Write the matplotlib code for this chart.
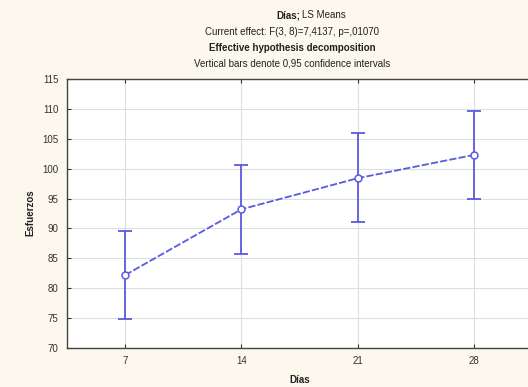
import matplotlib
matplotlib.use("Agg")
import matplotlib.pyplot as plt

dias = [7, 14, 21, 28]
means = [82.2, 93.2, 98.4, 102.3]
lower = [74.8, 85.8, 91.0, 94.9]
upper = [89.6, 100.6, 105.9, 109.7]

title_lines = ["Current effect: F(3, 8)=7,4137, p=,01070",
               "Effective hypothesis decomposition",
               "Vertical bars denote 0,95 confidence intervals"]

plt.rcParams['font.family'] = ['Liberation Sans', 'DejaVu Sans']
W, H = 528, 387
fig = plt.figure(figsize=(W/100, H/100), dpi=100)
fig.patch.set_facecolor('#fcf8ee')

left, right, top, bottom = 67, 532, 79, 348
ax = fig.add_axes([left/W, 1-bottom/H, (right-left)/W, (bottom-top)/H])
ax.set_facecolor('white')

col = '#5a5ae0'
yerr = [[m - l for m, l in zip(means, lower)], [u - m for m, u in zip(means, upper)]]
ax.errorbar(dias, means, yerr=yerr, fmt='none', ecolor=col, elinewidth=1.3,
            capsize=5, capthick=1.3, zorder=3)
ax.plot(dias, means, color=col, lw=1.3, ls=(0, (4, 1.2)), marker='o',
        markersize=5, markerfacecolor='white', markeredgecolor=col,
        markeredgewidth=1.1, zorder=4)

ax.set_xlim(3.5, 31.5)
ax.set_ylim(70, 115)
ax.set_xticks(dias)
ax.set_yticks(range(70, 116, 5))
ax.grid(True, color='#dedede', lw=0.8)
ax.set_axisbelow(True)
ax.tick_params(direction='in', length=3, labelsize=7, colors='#333333',
               top=True, right=False, pad=6)
for s in ax.spines.values():
    s.set_color('#444444')
    s.set_linewidth(1.0)

fig.text(30/W, 1-213/H, 'Esfuerzos', rotation=90, ha='center', va='center',
         fontsize=7, fontweight='bold', color='#222222')
fig.text(300/W, 1-380/H, 'Días', ha='center', va='center',
         fontsize=7, fontweight='bold', color='#222222')

fig.text(300/W, 1-15/H, 'Días;', ha='right', va='center', fontsize=7,
         fontweight='bold', color='#222222')
fig.text(302/W, 1-15/H, 'LS Means', ha='left', va='center', fontsize=7,
         color='#222222')
fig.text(292/W, 1-32/H, title_lines[0], ha='center', va='center', fontsize=7,
         color='#222222')
fig.text(292/W, 1-48/H, title_lines[1], ha='center', va='center', fontsize=7,
         fontweight='bold', color='#222222')
fig.text(292/W, 1-64/H, title_lines[2], ha='center', va='center', fontsize=7,
         color='#222222')

fig.savefig('out.png', dpi=100, facecolor=fig.get_facecolor())
